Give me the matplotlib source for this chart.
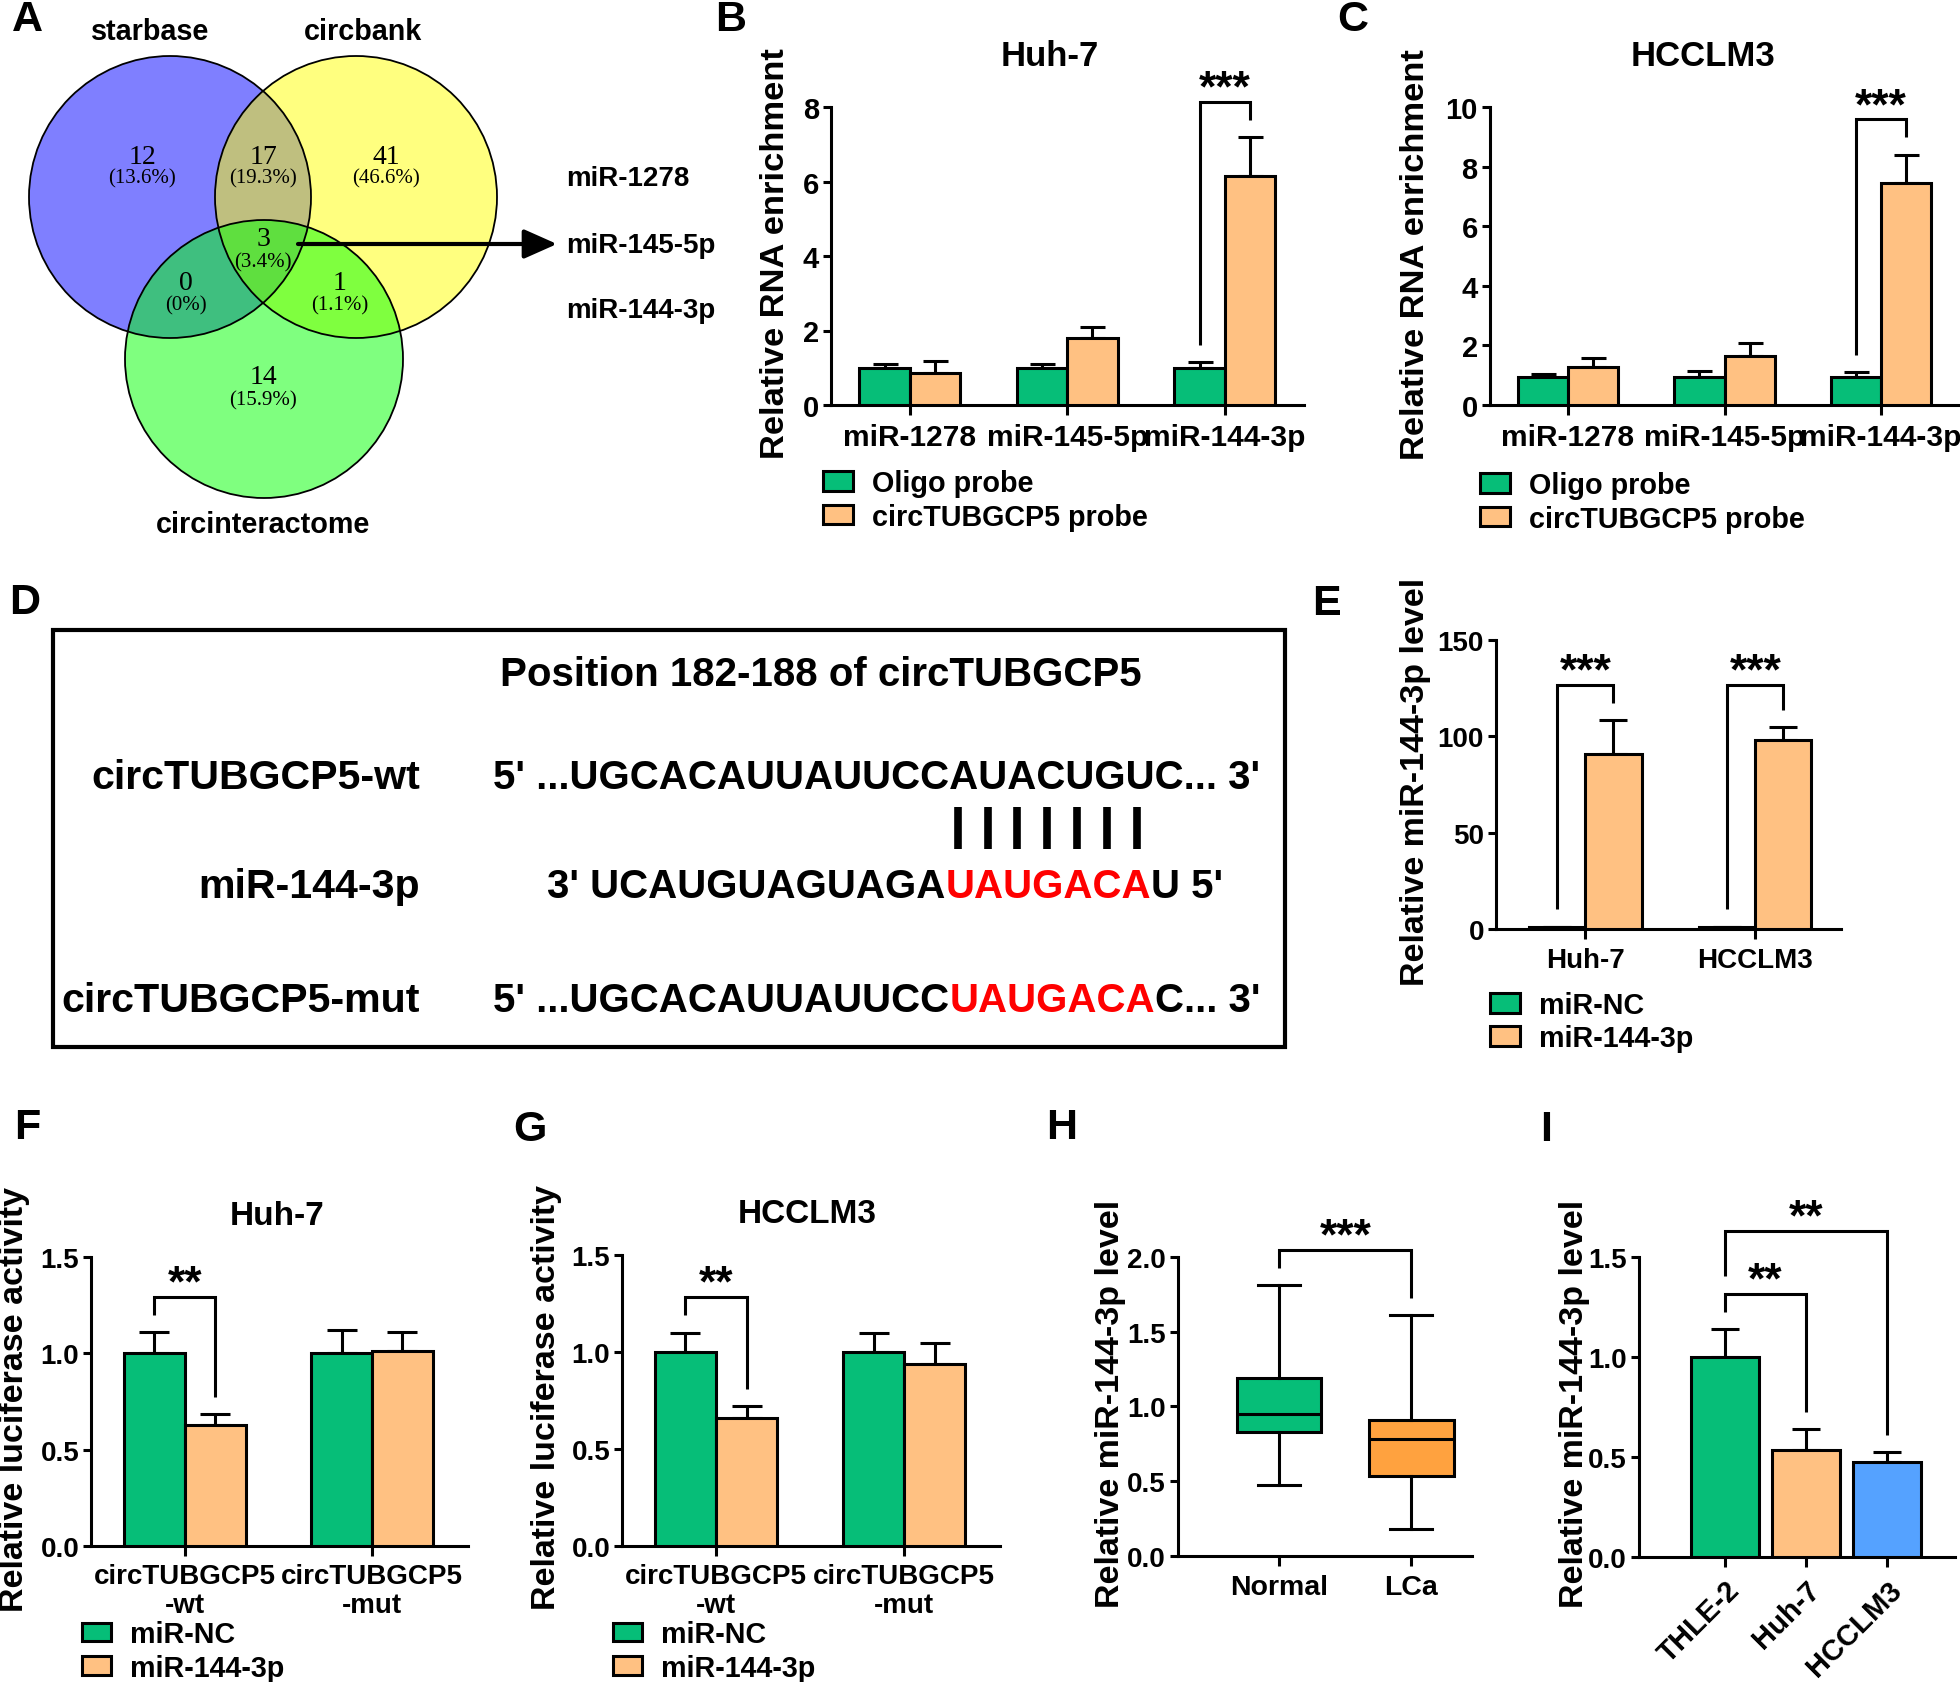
import numpy as np
import matplotlib
matplotlib.use('Agg')
import matplotlib.pyplot as plt
from matplotlib.patches import Circle, Rectangle
from matplotlib.ticker import FormatStrFormatter

# ---------------- data ----------------
venn_sets = ['starbase', 'circbank', 'circinteractome']
# regions: starbase only, starbase&circbank, circbank only, starbase&circinteractome,
#          all three, circbank&circinteractome, circinteractome only
venn_region_counts = [12, 17, 41, 0, 3, 1, 14]
venn_hits = ['miR-1278', 'miR-145-5p', 'miR-144-3p']

rip_mirs = ['miR-1278', 'miR-145-5p', 'miR-144-3p']
rip_probes = ['Oligo probe', 'circTUBGCP5 probe']
huh7_oligo = [1.00, 1.00, 1.00]
huh7_oligo_sd = [0.10, 0.11, 0.15]
huh7_circ = [0.86, 1.80, 6.15]
huh7_circ_sd = [0.32, 0.29, 1.04]
huh7_rip_sig = ['', '', '***']
lm3_oligo = [0.95, 0.95, 0.95]
lm3_oligo_sd = [0.10, 0.19, 0.15]
lm3_circ = [1.26, 1.65, 7.45]
lm3_circ_sd = [0.32, 0.44, 0.94]
lm3_rip_sig = ['', '', '***']

site_title = 'Position 182-188 of circTUBGCP5'
site_names = ['circTUBGCP5-wt', 'miR-144-3p', 'circTUBGCP5-mut']
wt_parts = ["5' ...UGCACAUUAUUCCAUACUGUC... 3'"]
mir_parts = ["3' UCAUGUAGUAGA", "UAUGACA", "U 5'"]
mut_parts = ["5' ...UGCACAUUAUUCC", "UAUGACA", "C... 3'"]
seed_len = 7

oe_cells = ['Huh-7', 'HCCLM3']
oe_groups = ['miR-NC', 'miR-144-3p']
oe_nc = [1.0, 1.0]
oe_nc_sd = [0.3, 0.3]
oe_mimic = [91.1, 98.1]
oe_mimic_sd = [17.3, 6.6]
oe_sig = ['***', '***']

luc_reporters = ['circTUBGCP5\n-wt', 'circTUBGCP5\n-mut']
luc_groups = ['miR-NC', 'miR-144-3p']
huh7_luc_nc = [1.00, 1.00]
huh7_luc_nc_sd = [0.11, 0.12]
huh7_luc_mimic = [0.63, 1.01]
huh7_luc_mimic_sd = [0.055, 0.10]
lm3_luc_nc = [1.00, 1.00]
lm3_luc_nc_sd = [0.10, 0.10]
lm3_luc_mimic = [0.66, 0.94]
lm3_luc_mimic_sd = [0.06, 0.105]
luc_sig = ['**', '']

tissue_groups = ['Normal', 'LCa']
tissue_whislo = [0.47, 0.18]
tissue_q1 = [0.83, 0.53]
tissue_med = [0.95, 0.78]
tissue_q3 = [1.19, 0.91]
tissue_whishi = [1.81, 1.61]
tissue_sig = '***'

cell_lines = ['THLE-2', 'Huh-7', 'HCCLM3']
cell_level = [1.00, 0.533, 0.474]
cell_sd = [0.14, 0.106, 0.05]
cell_sig = ['**', '**']

# ---------------- style ----------------
plt.rcParams['font.family'] = ['Liberation Sans', 'DejaVu Sans']
plt.rcParams['font.weight'] = 'bold'
plt.rcParams['axes.labelweight'] = 'bold'

GREEN = '#06BE78'
ORANGE = '#FFC182'
BLUE = '#55A2FF'
DORANGE = '#FFA23F'
LW = 2.2
GAP_PX, LEG_PX = 17.5, 18.0
STAR_FS = 32

W, H = 1960, 1683
fig = plt.figure(figsize=(W / 100, H / 100), dpi=100)
fig.patch.set_facecolor('white')


def axes_px(l, t, r, b):
    return fig.add_axes([l / W, 1 - b / H, (r - l) / W, (b - t) / H])


def style(ax, xlim, ylim, yticks, fmt=None, xpad=3, ytick_fs=20, xtick_fs=20):
    ax.set_xlim(*xlim)
    ax.set_ylim(*ylim)
    for s in ['top', 'right']:
        ax.spines[s].set_visible(False)
    for s in ['left', 'bottom']:
        ax.spines[s].set_linewidth(LW)
    ax.set_yticks(yticks)
    if fmt:
        ax.yaxis.set_major_formatter(FormatStrFormatter(fmt))
    ax.tick_params(axis='y', length=6, width=LW, pad=2.5, labelsize=ytick_fs)
    ax.tick_params(axis='x', length=7, width=LW, pad=xpad, labelsize=xtick_fs)
    ax.patch.set_alpha(0)


def px2d(ax, px):
    y0, y1 = ax.get_ylim()
    return px * (y1 - y0) / (ax.get_position().height * H)


def ylabel_px(ax, text, cx, cy, fs=24.5):
    ax.set_ylabel(text, fontsize=fs, va='center', ha='center')
    p = ax.get_position()
    l, w = p.x0 * W, p.width * W
    b, h = (1 - p.y0) * H, p.height * H
    ax.yaxis.set_label_coords((cx - l) / w, (b - cy) / h)


def ftext(s, x, y, **kw):
    kw.setdefault('ha', 'center')
    kw.setdefault('va', 'center')
    return fig.text(x / W, 1 - y / H, s, **kw)


def bars(ax, x, vals, sds, color, width, capsize):
    cont = ax.bar(x, vals, width, color=color, edgecolor='black', linewidth=LW, zorder=3)
    ax.errorbar(x, vals, yerr=[np.zeros(len(vals)), sds], fmt='none', ecolor='black',
                elinewidth=LW, capsize=capsize, capthick=LW, zorder=2)
    return cont


def bracket(ax, x1, x2, yl, yr, top, label, fs=STAR_FS):
    ax.plot([x1, x1, x2, x2], [yl, top, top, yr], color='black', lw=LW,
            clip_on=False, solid_joinstyle='miter', solid_capstyle='butt')
    ax.annotate(label, xy=((x1 + x2) / 2, top), xytext=(0, 1), textcoords='offset points',
                ha='center', va='baseline', fontsize=fs, annotation_clip=False)


def legend_px(ax, handles, labels, x, y, hl=1.05, hh=0.66, tp=0.66, ls=0.2, fs=20.7):
    ax.legend(handles, labels, loc='upper left', bbox_to_anchor=(x / W, 1 - y / H),
              bbox_transform=fig.transFigure, frameon=False, fontsize=fs,
              handlelength=hl, handleheight=hh, handletextpad=tp, labelspacing=ls,
              borderpad=0, borderaxespad=0)


# ---------------- panel A : Venn ----------------
axA = axes_px(0, 0, 740, 560)
axA.set_xlim(0, 740)
axA.set_ylim(560, 0)
axA.axis('off')
circles = [((170, 198), 141, '#0000FF'), ((356, 198), 141, '#FFFF00'), ((264, 360), 139, '#00FF00')]
for c, r, col in circles:
    axA.add_patch(Circle(c, r, facecolor=col, alpha=0.5, edgecolor='none'))
for c, r, col in circles:
    axA.add_patch(Circle(c, r, fill=False, edgecolor='black', lw=1.3))
region_pos = [(142, 158, 179), (263, 158, 179), (386, 158, 179), (186, 284, 306),
              (263, 240, 263), (340, 284, 306), (263, 378, 401)]
total = sum(venn_region_counts)
SERIF = ['Liberation Serif', 'DejaVu Serif']
for cnt, (x, yn, yp) in zip(venn_region_counts, region_pos):
    pct = 100 * cnt / total
    ptxt = '(0%)' if cnt == 0 else f'({pct:.1f}%)'
    axA.text(x, yn, str(cnt), ha='center', va='center', fontsize=20, family=SERIF, weight='normal')
    axA.text(x, yp, ptxt, ha='center', va='center', fontsize=15, family=SERIF, weight='normal')
for name, (x, y) in zip(venn_sets, [(150, 32), (363, 32), (263, 525)]):
    axA.text(x, y, name, ha='center', va='center', fontsize=20.7)
for hit, y in zip(venn_hits, [178.5, 246, 311]):
    axA.text(566, y, hit, ha='left', va='center', fontsize=20)
axA.annotate('', xy=(557, 245), xytext=(298, 245),
             arrowprops=dict(arrowstyle='-|>,head_length=0.45,head_width=0.2',
                             lw=3, color='black', mutation_scale=45, shrinkA=0, shrinkB=0))

# ---------------- panel B / C : RNA pulldown ----------------
def rip_panel(box, ylim, yticks, oligo, oligo_sd, circ, circ_sd, sig, title, title_xy,
              ylab_xy, leg_xy):
    ax = axes_px(*box)
    style(ax, (-0.5, 2.5), ylim, yticks, xpad=6, ytick_fs=21, xtick_fs=21.5)
    bw = 0.32
    x = np.arange(len(rip_mirs))
    h1 = bars(ax, x - bw / 2, oligo, oligo_sd, GREEN, bw, 9)
    h2 = bars(ax, x + bw / 2, circ, circ_sd, ORANGE, bw, 9)
    ax.set_xticks(x)
    ax.set_xticklabels(rip_mirs)
    g, lg = px2d(ax, GAP_PX), px2d(ax, LEG_PX)
    for i, s in enumerate(sig):
        if s:
            yl = oligo[i] + oligo_sd[i] + g
            yr = circ[i] + circ_sd[i] + g
            bracket(ax, i - bw / 2, i + bw / 2, yl, yr, max(yl, yr) + lg, s)
    ylabel_px(ax, 'Relative RNA enrichment', *ylab_xy, fs=24.8)
    ftext(title, *title_xy, fontsize=25, weight='bold')
    legend_px(ax, [h1, h2], rip_probes, *leg_xy)
    return ax


rip_panel((831, 108, 1303.5, 406), (0, 8), [0, 2, 4, 6, 8], huh7_oligo, huh7_oligo_sd,
          huh7_circ, huh7_circ_sd, huh7_rip_sig, 'Huh-7', (1050, 57), (775.6, 254), (823, 470))
rip_panel((1489.5, 108, 1959.5, 406), (0, 10), [0, 2, 4, 6, 8, 10], lm3_oligo, lm3_oligo_sd,
          lm3_circ, lm3_circ_sd, lm3_rip_sig, 'HCCLM3', (1703, 57), (1415, 255), (1480, 472))

# ---------------- panel D : binding site ----------------
axD = axes_px(0, 580, 1300, 1080)
axD.set_xlim(0, 1300)
axD.set_ylim(1080, 580)
axD.axis('off')
axD.add_patch(Rectangle((52.6, 630.7), 1285 - 52.6, 1048 - 630.7, fill=False, lw=3, ec='black'))
FS_D = 29
axD.text(500, 686, site_title, fontsize=FS_D, ha='left', va='baseline')
row_base = [788.7, 898, 1011.8]
for name, yb in zip(site_names, row_base):
    axD.text(420, yb, name, fontsize=29.6, ha='right', va='baseline')


def seq_line(ax, x, y, parts, colors):
    t = ax.text(x, y, parts[0], color=colors[0], fontsize=FS_D, ha='left', va='baseline')
    out = [t]
    for s, c in zip(parts[1:], colors[1:]):
        t = ax.annotate(s, xycoords=t, xy=(1, 0), va='bottom', ha='left', color=c, fontsize=FS_D)
        out.append(t)
    return out


seq_line(axD, 493.3, row_base[0], wt_parts, ['black'])
mir_txt = seq_line(axD, 547, row_base[1], mir_parts, ['black', '#FF0000', 'black'])
seq_line(axD, 493.3, row_base[2], mut_parts, ['black', '#FF0000', 'black'])

# ---------------- panel E : overexpression ----------------
axE = axes_px(1495.7, 640.8, 1840.9, 930.4)
style(axE, (-0.528, 1.503), (0, 150), [0, 50, 100, 150], xpad=5.5)
bwE = 0.33
xE = np.arange(len(oe_cells))
hE1 = bars(axE, xE - bwE / 2, oe_nc, oe_nc_sd, GREEN, bwE, 10)
hE2 = bars(axE, xE + bwE / 2, oe_mimic, oe_mimic_sd, ORANGE, bwE, 10)
axE.set_xticks(xE)
axE.set_xticklabels(oe_cells)
g, lg = px2d(axE, GAP_PX), px2d(axE, LEG_PX)
tops = [max(oe_nc[i] + oe_nc_sd[i], oe_mimic[i] + oe_mimic_sd[i]) + g + lg for i in range(2)]
for i, s in enumerate(oe_sig):
    bracket(axE, i - bwE / 2, i + bwE / 2, oe_nc[i] + oe_nc_sd[i] + g,
            oe_mimic[i] + oe_mimic_sd[i] + g, max(tops), s)
ylabel_px(axE, 'Relative miR-144-3p level', 1415.7, 782)
legend_px(axE, [hE1, hE2], oe_groups, 1490, 992, ls=0.18)

# ---------------- panels F / G : luciferase ----------------
def luc_panel(box, nc, nc_sd, mim, mim_sd, title, title_xy, ylab_xy, leg_xy):
    ax = axes_px(*box)
    style(ax, (-0.5, 1.51), (0, 1.5), [0, 0.5, 1.0, 1.5], fmt='%.1f', xpad=5.5)
    bw = 0.325
    x = np.arange(len(luc_reporters))
    h1 = bars(ax, x - bw / 2, nc, nc_sd, GREEN, bw, 11)
    h2 = bars(ax, x + bw / 2, mim, mim_sd, ORANGE, bw, 11)
    ax.set_xticks(x)
    ax.set_xticklabels(luc_reporters, linespacing=1.12)
    g, lg = px2d(ax, GAP_PX), px2d(ax, LEG_PX)
    for i, s in enumerate(luc_sig):
        if s:
            yl = nc[i] + nc_sd[i] + g
            yr = mim[i] + mim_sd[i] + g
            bracket(ax, i - bw / 2, i + bw / 2, yl, yr, max(yl, yr) + lg, s)
    ylabel_px(ax, 'Relative luciferase activity', *ylab_xy)
    ftext(title, *title_xy, fontsize=24, weight='bold')
    legend_px(ax, [h1, h2], luc_groups, *leg_xy, hl=1.0, hh=0.62, ls=0.2)
    return ax


luc_panel((91, 1258, 467.6, 1547), huh7_luc_nc, huh7_luc_nc_sd, huh7_luc_mimic,
          huh7_luc_mimic_sd, 'Huh-7', (277, 1217), (15, 1400), (82, 1621))
luc_panel((622, 1256, 1000, 1547), lm3_luc_nc, lm3_luc_nc_sd, lm3_luc_mimic,
          lm3_luc_mimic_sd, 'HCCLM3', (807, 1215), (546, 1398), (613, 1621))

# ---------------- panel H : tissues ----------------
axH = axes_px(1177.5, 1258, 1472, 1556.6)
style(axH, (-0.77, 1.46), (0, 2.0), [0, 0.5, 1.0, 1.5, 2.0], fmt='%.1f', xpad=6,
      ytick_fs=20, xtick_fs=20.5)
stats = [dict(med=m, q1=a, q3=b, whislo=lo, whishi=hi, label=n)
         for n, lo, a, m, b, hi in zip(tissue_groups, tissue_whislo, tissue_q1, tissue_med,
                                        tissue_q3, tissue_whishi)]
bp = axH.bxp(stats, positions=[0, 1], widths=0.64, showfliers=False, patch_artist=True,
             boxprops=dict(linewidth=LW, edgecolor='black'),
             medianprops=dict(color='black', linewidth=LW),
             whiskerprops=dict(color='black', linewidth=LW),
             capprops=dict(color='black', linewidth=LW), zorder=3)
for patch, col in zip(bp['boxes'], [GREEN, DORANGE]):
    patch.set_facecolor(col)
axH.set_xticks([0, 1])
axH.set_xticklabels(tissue_groups)
g, lg = px2d(axH, GAP_PX), px2d(axH, LEG_PX)
yl, yr = tissue_whishi[0] + g, tissue_whishi[1] + g
bracket(axH, 0, 1, yl, yr, max(yl, yr) + lg, tissue_sig)
ylabel_px(axH, 'Relative miR-144-3p level', 1111, 1404)

# ---------------- panel I : cell lines ----------------
axI = axes_px(1638.5, 1258, 1955, 1558)
style(axI, (-1.068, 2.84), (0, 1.5), [0, 0.5, 1.0, 1.5], fmt='%.1f', xpad=6,
      ytick_fs=20, xtick_fs=21)
xI = np.arange(len(cell_lines))
axI.bar(xI, cell_level, 0.85, color=[GREEN, ORANGE, BLUE], edgecolor='black', linewidth=LW, zorder=3)
axI.errorbar(xI, cell_level, yerr=[np.zeros(3), cell_sd], fmt='none', ecolor='black',
             elinewidth=LW, capsize=10, capthick=LW, zorder=2)
axI.set_xticks(xI)
axI.set_xticklabels(cell_lines, rotation=45, ha='right', rotation_mode='anchor')
g, lg = px2d(axI, GAP_PX), px2d(axI, LEG_PX)
yl1 = cell_level[0] + cell_sd[0] + g
yr1 = cell_level[1] + cell_sd[1] + g
top1 = max(yl1, yr1) + lg
bracket(axI, 0, 1, yl1, yr1, top1, cell_sig[0])
yl2 = top1 + lg
yr2 = cell_level[2] + cell_sd[2] + g
top2 = top1 + px2d(axI, 63)
bracket(axI, 0, 2, yl2, yr2, top2, cell_sig[1])
ylabel_px(axI, 'Relative miR-144-3p level', 1575, 1404)

# ---------------- panel letters ----------------
for lab, (x, y) in zip('ABCDEFGHI', [(27, 20), (731, 20), (1353, 20), (25, 603), (1326, 604),
                                     (27.5, 1128), (530, 1130), (1062, 1128), (1546, 1130)]):
    ftext(lab, x, y, fontsize=31, weight='bold')

# ---------------- seed pairing lines (aligned to rendered seed text) ----------------
fig.canvas.draw()
rend = fig.canvas.get_renderer()
bb = mir_txt[1].get_window_extent(rend)
inv = axD.transData.inverted()
(xa, _), (xb, _) = inv.transform([[bb.x0, bb.y0], [bb.x1, bb.y1]])
wseed = xb - xa
for k in range(seed_len):
    xk = xa + 0.06 * wseed + k * (0.87 * wseed) / (seed_len - 1)
    axD.plot([xk, xk], [808, 849.6], color='black', lw=5.5, solid_capstyle='butt')

fig.savefig('out.png', dpi=100, facecolor='white')
